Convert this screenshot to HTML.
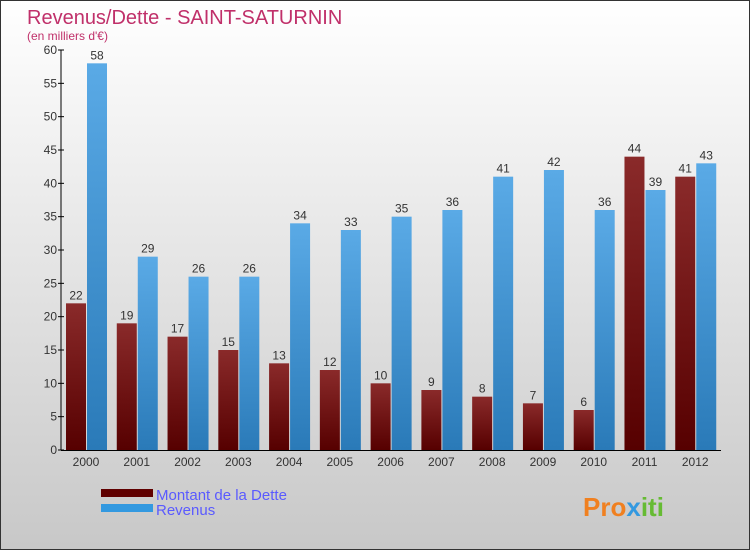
<!DOCTYPE html>
<html><head><meta charset="utf-8">
<style>
body{margin:0;width:750px;height:550px;overflow:hidden;font-family:"Liberation Sans",sans-serif}
#wrap{position:relative;width:748px;height:548px;border:1px solid #333;background:linear-gradient(#ffffff,#c8c8c8)}
</style></head>
<body>
<div id="wrap">
<svg id="chart" width="748" height="548">
<defs>
<linearGradient id="gr" x1="0" y1="0" x2="0" y2="1"><stop offset="0" stop-color="#8a2a2a"/><stop offset="1" stop-color="#560000"/></linearGradient>
<linearGradient id="gb" x1="0" y1="0" x2="0" y2="1"><stop offset="0" stop-color="#5aaae6"/><stop offset="1" stop-color="#2a7ab8"/></linearGradient>
</defs>
<text x="26" y="23" font-size="20" fill="#c0306a">Revenus/Dette - SAINT-SATURNIN</text>
<text x="26" y="39" font-size="12" fill="#c0306a">(en milliers d'€)</text>
<g id="plot"></g>
<rect x="100" y="488" width="52" height="8" fill="#600000"/>
<text x="155" y="499" font-size="15" fill="#5a5aff">Montant de la Dette</text>
<rect x="100" y="503" width="52" height="8" fill="#3399e0"/>
<text x="155" y="514" font-size="15" fill="#5a5aff">Revenus</text>
<text x="582" y="515" font-size="26" font-weight="bold" fill="#f08020">Pro<tspan fill="#3399e0">x</tspan><tspan fill="#66bb33">iti</tspan></text>
</svg>
</div>
<script>
const categories=["2000","2001","2002","2003","2004","2005","2006","2007","2008","2009","2010","2011","2012"];
const dette=[22,19,17,15,13,12,10,9,8,7,6,44,41];
const revenus=[58,29,26,26,34,33,35,36,41,42,36,39,43];
const yTicks=[0,5,10,15,20,25,30,35,40,45,50,55,60];
const NS="http://www.w3.org/2000/svg";
const g=document.getElementById('plot');
const x0=59,groupW=50.77,y0=449,yMax=60,pxPer=400/yMax;
function y(v){return y0-v*pxPer;}
function mk(t,a){const e=document.createElementNS(NS,t);for(const k in a)e.setAttribute(k,a[k]);g.appendChild(e);return e;}
const ax=mk('line',{x1:x0+1,y1:y(60),x2:x0+1,y2:y0,stroke:'#000'});


const bx=mk('line',{x1:x0+1,y1:y0+.5,x2:720,y2:y0+.5,stroke:'#000'});


yTicks.forEach(v=>{
 const tk=mk('line',{x1:x0-2,y1:y(v),x2:x0+4,y2:y(v),stroke:'#000'});
 
 
 const t=mk('text',{x:x0-3,y:y(v)+4,'font-size':12,'text-anchor':'end',fill:'#333'});
 t.textContent=v;
 
 
});
categories.forEach((c,i)=>{
 const gx=x0+i*groupW;
 const r=mk('rect',{x:gx+6,y:y(dette[i]),width:20,height:dette[i]*pxPer,fill:'url(#gr)'});
 
 
 const b=mk('rect',{x:gx+27,y:y(revenus[i]),width:20,height:revenus[i]*pxPer,fill:'url(#gb)'});
 
 
 const l1=mk('text',{x:gx+16,y:y(dette[i])-4,'font-size':12,'text-anchor':'middle',fill:'#333'});
 l1.textContent=dette[i];
 
 
 const l2=mk('text',{x:gx+37,y:y(revenus[i])-4,'font-size':12,'text-anchor':'middle',fill:'#333'});
 l2.textContent=revenus[i];
 
 
 const xl=mk('text',{x:gx+26,y:y0+16,'font-size':12,'text-anchor':'middle',fill:'#333'});
 xl.textContent=c;
 
 
});
</script>
</body></html>
